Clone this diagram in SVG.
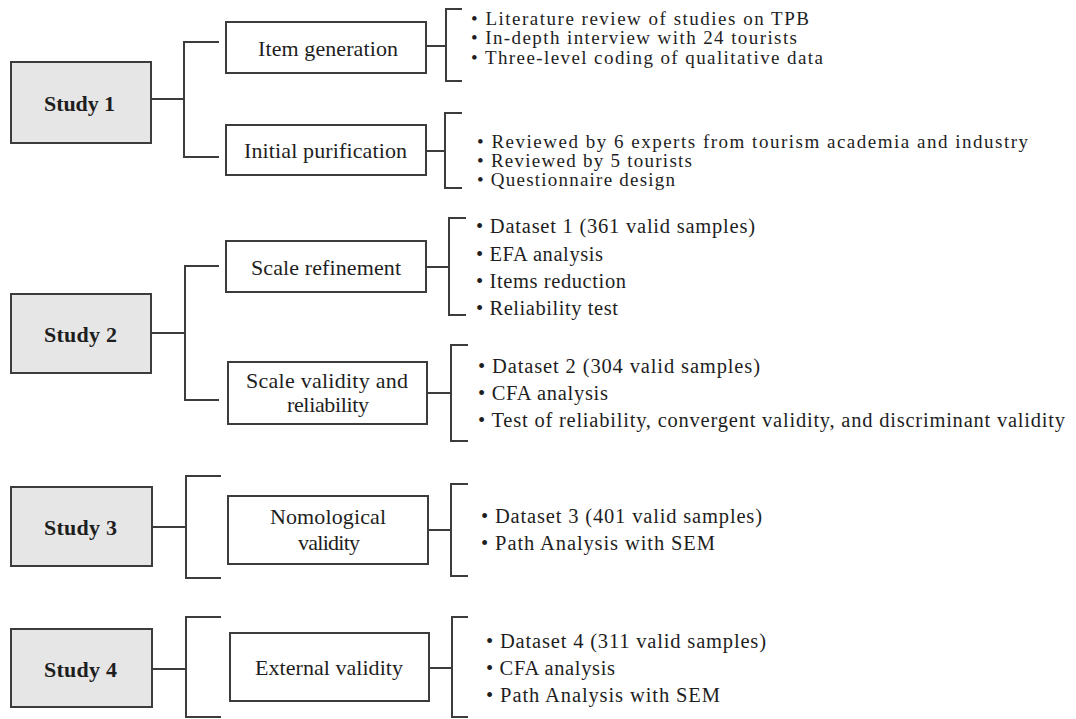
<svg xmlns="http://www.w3.org/2000/svg" width="1076" height="719" viewBox="0 0 1076 719">
<style>
.study{fill:#e6e6e6;stroke:#3c3c3c;stroke-width:2}
.box{fill:#ffffff;stroke:#3c3c3c;stroke-width:2}
.conn path{fill:none;stroke:#3c3c3c;stroke-width:2}
text{font-family:"Liberation Serif","Times New Roman",serif;fill:#1e1e1e}
.st{font-size:22px;font-weight:bold}
.lb{font-size:22px}
.bl{font-size:20.5px}
.bs{font-size:19px}
</style>
<rect width="1076" height="719" fill="#ffffff"/>
<g id="connectors" class="conn">
<path d="M151,99 H184 M219,42 H184 V157 H219"/>
<path d="M151,333 H185 M219,266 H185 V400 H219"/>
<path d="M152,527 H186 M221,476 H186 V578 H221"/>
<path d="M152,669 H186 M221,617 H186 V717 H221"/>
<path d="M427,46 H446 M462,9 H446 V81 H462"/>
<path d="M427,151 H445 M462,113 H445 V188 H462"/>
<path d="M427,267 H449 M466,218 H449 V315 H466"/>
<path d="M428,393 H451 M468,345 H451 V441 H468"/>
<path d="M429,530 H451 M468,484 H451 V576 H468"/>
<path d="M430,668 H452 M468,617 H452 V717 H468"/>
</g>
<g id="study1"><rect class="study" x="11" y="62" width="140" height="81"/><text class="st" x="44" y="111" textLength="71" lengthAdjust="spacing">Study 1</text></g>
<g id="study2"><rect class="study" x="11" y="294" width="140" height="79"/><text class="st" x="44" y="342" textLength="73" lengthAdjust="spacing">Study 2</text></g>
<g id="study3"><rect class="study" x="11" y="487" width="141" height="79"/><text class="st" x="44" y="535" textLength="73" lengthAdjust="spacing">Study 3</text></g>
<g id="study4"><rect class="study" x="11" y="629" width="141" height="78"/><text class="st" x="44" y="677" textLength="73" lengthAdjust="spacing">Study 4</text></g>
<g id="item-generation"><rect class="box" x="226" y="22" width="200" height="51"/><text class="lb" x="258" y="56" textLength="140" lengthAdjust="spacing">Item generation</text></g>
<g id="initial-purification"><rect class="box" x="226" y="125" width="200" height="50"/><text class="lb" x="244" y="158" textLength="163" lengthAdjust="spacing">Initial purification</text></g>
<g id="scale-refinement"><rect class="box" x="226" y="241" width="200" height="51"/><text class="lb" x="251" y="275" textLength="150" lengthAdjust="spacing">Scale refinement</text></g>
<g id="scale-validity"><rect class="box" x="228" y="362" width="199" height="62"/><text class="lb" x="246" y="388" textLength="162" lengthAdjust="spacing">Scale validity and</text><text class="lb" x="287" y="412" textLength="82" lengthAdjust="spacing">reliability</text></g>
<g id="nomological-validity"><rect class="box" x="228" y="496" width="200" height="68"/><text class="lb" x="270" y="524" textLength="116" lengthAdjust="spacing">Nomological</text><text class="lb" x="298" y="550" textLength="62" lengthAdjust="spacing">validity</text></g>
<g id="external-validity"><rect class="box" x="230" y="633" width="199" height="68"/><text class="lb" x="255" y="675" textLength="148" lengthAdjust="spacing">External validity</text></g>
<g id="items-1">
<text class="bs" x="471" y="24.5" textLength="338" lengthAdjust="spacing">• Literature review of studies on TPB</text>
<text class="bs" x="471" y="44" textLength="326" lengthAdjust="spacing">• In-depth interview with 24 tourists</text>
<text class="bs" x="471" y="64" textLength="352" lengthAdjust="spacing">• Three-level coding of qualitative data</text>
</g>
<g id="items-2">
<text class="bs" x="477" y="148" textLength="551" lengthAdjust="spacing">• Reviewed by 6 experts from tourism academia and industry</text>
<text class="bs" x="477" y="167" textLength="215" lengthAdjust="spacing">• Reviewed by 5 tourists</text>
<text class="bs" x="477" y="186" textLength="198" lengthAdjust="spacing">• Questionnaire design</text>
</g>
<g id="items-3">
<text class="bl" x="476" y="233" textLength="279" lengthAdjust="spacing">• Dataset 1 (361 valid samples)</text>
<text class="bl" x="476" y="261" textLength="127" lengthAdjust="spacing">• EFA analysis</text>
<text class="bl" x="476" y="288" textLength="150" lengthAdjust="spacing">• Items reduction</text>
<text class="bl" x="476" y="315" textLength="142" lengthAdjust="spacing">• Reliability test</text>
</g>
<g id="items-4">
<text class="bl" x="478" y="373" textLength="282" lengthAdjust="spacing">• Dataset 2 (304 valid samples)</text>
<text class="bl" x="478" y="400" textLength="130" lengthAdjust="spacing">• CFA analysis</text>
<text class="bl" x="478" y="427" textLength="587" lengthAdjust="spacing">• Test of reliability, convergent validity, and discriminant validity</text>
</g>
<g id="items-5">
<text class="bl" x="481" y="523" textLength="281" lengthAdjust="spacing">• Dataset 3 (401 valid samples)</text>
<text class="bl" x="481" y="550" textLength="234" lengthAdjust="spacing">• Path Analysis with SEM</text>
</g>
<g id="items-6">
<text class="bl" x="486" y="648" textLength="280" lengthAdjust="spacing">• Dataset 4 (311 valid samples)</text>
<text class="bl" x="486" y="675" textLength="129" lengthAdjust="spacing">• CFA analysis</text>
<text class="bl" x="486" y="702" textLength="234" lengthAdjust="spacing">• Path Analysis with SEM</text>
</g>
</svg>
